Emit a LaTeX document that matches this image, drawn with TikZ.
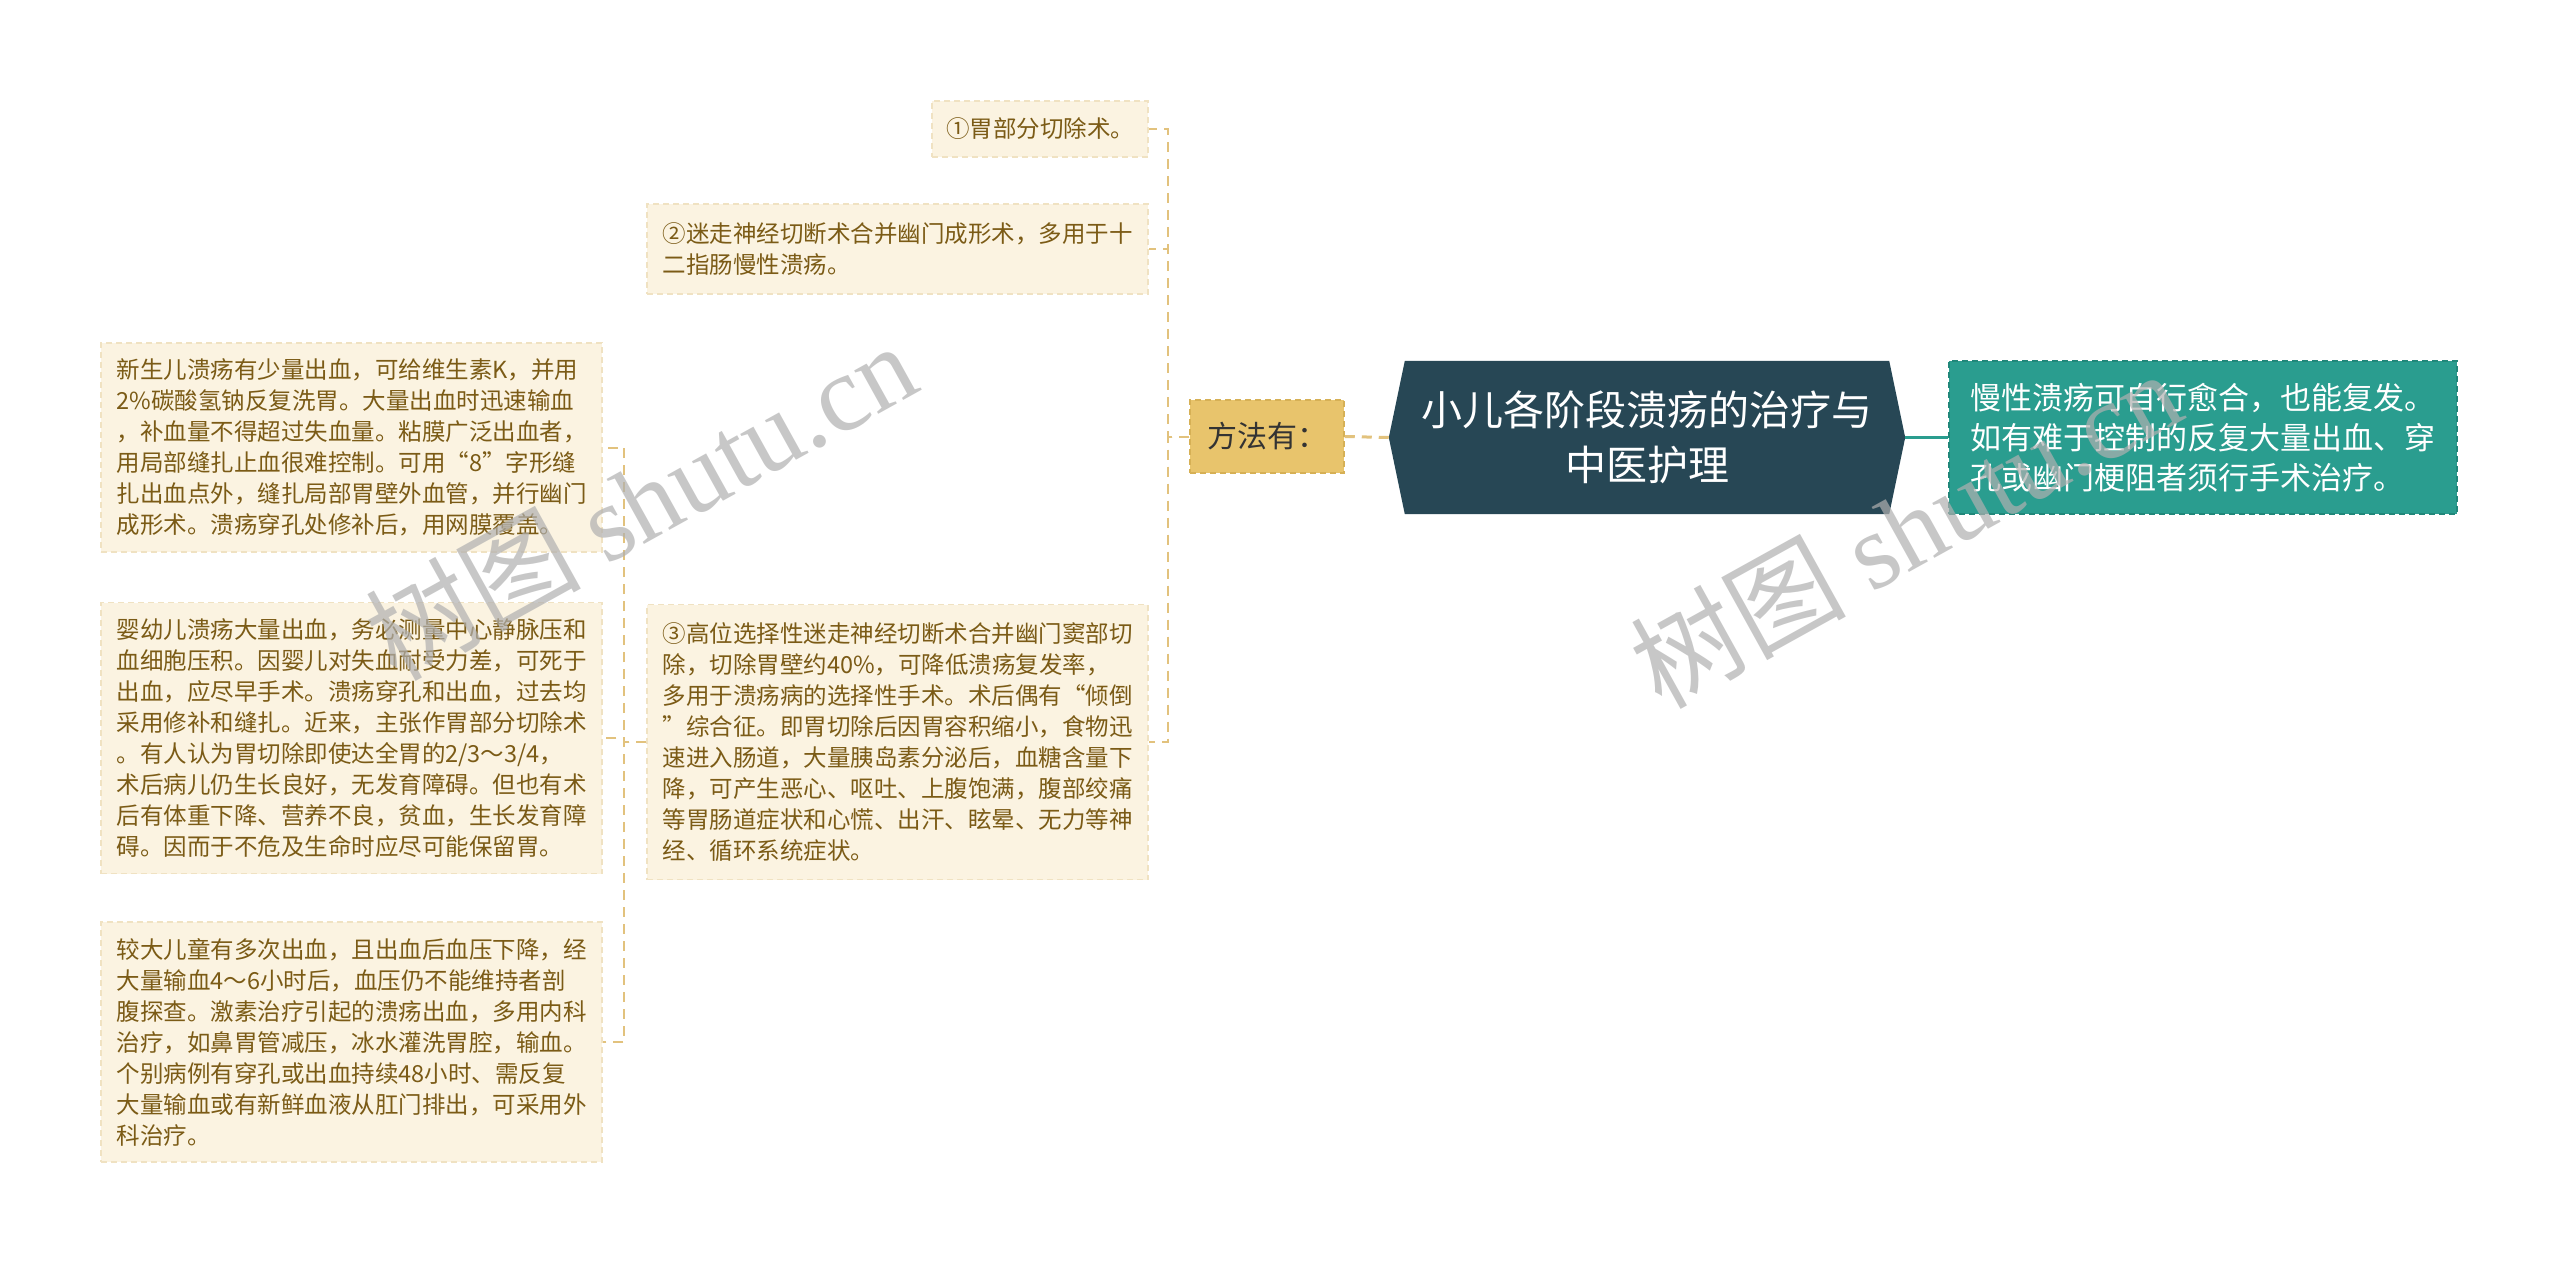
\documentclass[tikz,border=0pt]{standalone}
\usepackage{fontspec}
\setmainfont{Noto Sans CJK SC}
\newfontfamily\wmserif{Liberation Serif}
\usetikzlibrary{backgrounds,calc}
\definecolor{leaffill}{HTML}{FBF3E1}
\definecolor{leafdraw}{HTML}{F0E2C2}
\definecolor{leaftext}{HTML}{7B5B16}
\definecolor{connc}{HTML}{E2C27D}
\definecolor{rootfill}{HTML}{274755}
\definecolor{tealfill}{HTML}{2A9D8F}
\definecolor{tealdraw}{HTML}{21877A}
\definecolor{fafill}{HTML}{E8C46C}
\definecolor{fadraw}{HTML}{D6B055}
\definecolor{wmgray}{HTML}{B0B0B0}
\begin{document}
\begin{tikzpicture}[x=1pt,y=-1pt,
  leaf/.style={fill=leaffill, draw=leafdraw, dash pattern=on 6pt off 4pt, line width=1.5pt,
    text=leaftext, font=\fontsize{23.5}{31}\selectfont, align=left, inner sep=0pt},
  conn/.style={draw=connc, line width=2pt, dash pattern=on 10pt off 7pt},
  rootnode/.style={minimum width=516pt, minimum height=153pt, inner sep=0pt, text=white,
    align=center, font=\fontsize{41}{55}\selectfont},
  tealbox/.style={fill=tealfill, draw=tealdraw, dash pattern=on 6pt off 4pt, line width=1.5pt,
    minimum width=508pt, minimum height=153pt, inner sep=0pt, text=white, align=left,
    font=\fontsize{31}{40}\selectfont},
  fabox/.style={fill=fafill, draw=fadraw, dash pattern=on 6pt off 4pt, line width=1.5pt,
    minimum width=154pt, minimum height=73pt, inner sep=0pt, text=black!80,
    font=\fontsize{30}{36}\selectfont},
  wm/.style={rotate=29, text=wmgray, opacity=0.7, font=\fontsize{108}{118}\selectfont, inner sep=0pt}
]
\useasboundingbox (0,0) rectangle (2560,1263);

% root
\node[rootnode] (root) at (1647,437.5) {小儿各阶段溃疡的治疗与\\中医护理};
\begin{scope}[on background layer]
\fill[white] (0,0) rectangle (2560,1263);
\fill[rootfill] ($(root.north west)+(16,0)$) -- ($(root.north east)+(-16,0)$) -- (root.east)
  -- ($(root.south east)+(-16,0)$) -- ($(root.south west)+(16,0)$) -- (root.west) -- cycle;
\end{scope}

% right teal
\node[tealbox] (teal) at (2203,437.5) {慢性溃疡可自行愈合，也能复发。\\如有难于控制的反复大量出血、穿\\孔或幽门梗阻者须行手术治疗。};

% method node
\node[fabox] (fa) at (1267,436.5) {方法有：};

% first-level leaves
\node[leaf, minimum width=216pt, minimum height=56pt] (l1) at (1040,129) {①胃部分切除术。};
\node[leaf, minimum width=501pt, minimum height=90pt] (l2) at (897.5,249) {②迷走神经切断术合并幽门成形术，多用于十\\二指肠慢性溃疡。};
\node[leaf, minimum width=501pt, minimum height=275pt] (l3) at (897.5,742) {③高位选择性迷走神经切断术合并幽门窦部切\\除，切除胃壁约40\%，可降低溃疡复发率，\\多用于溃疡病的选择性手术。术后偶有“倾倒\\”综合征。即胃切除后因胃容积缩小，食物迅\\速进入肠道，大量胰岛素分泌后，血糖含量下\\降，可产生恶心、呕吐、上腹饱满，腹部绞痛\\等胃肠道症状和心慌、出汗、眩晕、无力等神\\经、循环系统症状。};

% second-level leaves
\node[leaf, minimum width=501pt, minimum height=209pt] (a) at (351.5,447.5) {新生儿溃疡有少量出血，可给维生素K，并用\\2\%碳酸氢钠反复洗胃。大量出血时迅速输血\\，补血量不得超过失血量。粘膜广泛出血者，\\用局部缝扎止血很难控制。可用“8”字形缝\\扎出血点外，缝扎局部胃壁外血管，并行幽门\\成形术。溃疡穿孔处修补后，用网膜覆盖。};
\node[leaf, minimum width=501pt, minimum height=271pt] (b) at (351.5,738) {婴幼儿溃疡大量出血，务必测量中心静脉压和\\血细胞压积。因婴儿对失血耐受力差，可死于\\出血，应尽早手术。溃疡穿孔和出血，过去均\\采用修补和缝扎。近来，主张作胃部分切除术\\。有人认为胃切除即使达全胃的2/3～3/4，\\术后病儿仍生长良好，无发育障碍。但也有术\\后有体重下降、营养不良，贫血，生长发育障\\碍。因而于不危及生命时应尽可能保留胃。};
\node[leaf, minimum width=501pt, minimum height=240pt] (c) at (351.5,1042) {较大儿童有多次出血，且出血后血压下降，经\\大量输血4～6小时后，血压仍不能维持者剖\\腹探查。激素治疗引起的溃疡出血，多用内科\\治疗，如鼻胃管减压，冰水灌洗胃腔，输血。\\个别病例有穿孔或出血持续48小时、需反复\\大量输血或有新鲜血液从肛门排出，可采用外\\科治疗。};

% connectors
\draw[draw=tealfill, line width=3pt] (root.east) -- (teal.west);
\draw[conn, line width=3pt] (fa.east) -- (root.west);
\draw[conn] (fa.west) -- ++(-21,0) |- (l1.east);
\draw[conn] (fa.west) -- ++(-21,0) |- (l2.east);
\draw[conn] (fa.west) -- ++(-21,0) |- (l3.east);
\draw[conn] (l3.west) -- ++(-22,0) |- (a.east);
\draw[conn] (l3.west) -- ++(-22,0) |- (b.east);
\draw[conn] (l3.west) -- ++(-22,0) |- (c.east);

% watermarks
\node[wm] (wm1) at (640,500) {树图 {\wmserif shutu.cn}};
\node[wm] (wm2) at (1905,528) {树图 {\wmserif shutu.cn}};
\end{tikzpicture}
\end{document}
